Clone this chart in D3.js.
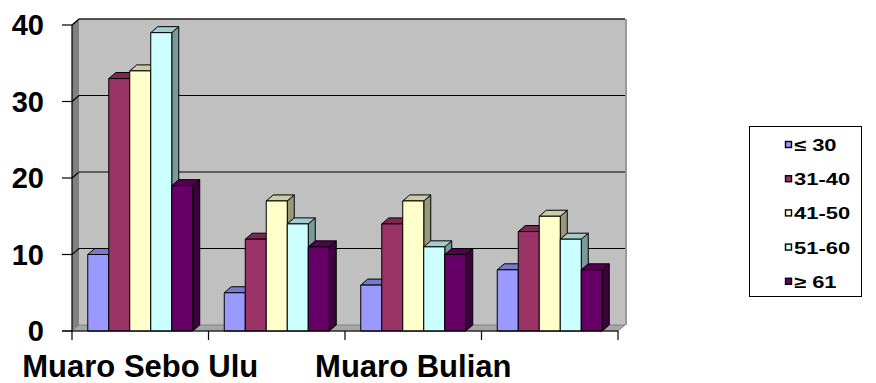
<!DOCTYPE html>
<html>
<head>
<meta charset="utf-8">
<script src="https://cdn.jsdelivr.net/npm/d3@7"></script>
<style>
  html, body { margin: 0; padding: 0; background: #fff; }
  svg { display: block; font-family: "Liberation Sans", Arial, sans-serif; }
</style>
</head>
<body>
<svg id="chart" width="876" height="383"></svg>
<script>
// Category tick labels (every other category label is skipped on the axis)
const categoryLabels = ["Muaro Sebo Ulu", "", "Muaro Bulian", ""];

// Age-group series
const seriesNames = ["\u2264 30", "31-40", "41-50", "51-60", "\u2265 61"];
const le30    = [10, 5, 6, 8];
const age3140 = [33, 12, 14, 13];
const age4150 = [34, 17, 17, 15];
const age5160 = [39, 14, 11, 12];
const ge61    = [19, 11, 10, 8];
const seriesValues = [le30, age3140, age4150, age5160, ge61];

const yTicks = [0, 10, 20, 30, 40];

// Face colours: front, top, side
const palette = [
  { front: "#9999FF", top: "#7A7ACC", side: "#5C5C99" },
  { front: "#993366", top: "#7A2952", side: "#5C1F3D" },
  { front: "#FFFFCC", top: "#CCCCA3", side: "#99997A" },
  { front: "#CCFFFF", top: "#A3CCCC", side: "#7A9999" },
  { front: "#660066", top: "#520052", side: "#3D003D" }
];

const svg = d3.select("#chart");

// Front plane of the plot and depth offset
const plotLeft = 72, plotRight = 618, plotBottom = 331, plotTop = 25;
const dx = 7, dy = -6;

const y = d3.scaleLinear().domain([0, 40]).range([plotBottom, plotTop]);
const x = d3.scaleBand().domain(d3.range(categoryLabels.length)).range([plotLeft, plotRight]).paddingInner(0).paddingOuter(0);
const xs = d3.scaleBand().domain(d3.range(seriesNames.length)).range([0, x.bandwidth()]).paddingInner(0).paddingOuter(0.75);

// Back wall
svg.append("rect")
  .attr("x", plotLeft + dx).attr("y", plotTop + dy)
  .attr("width", plotRight - plotLeft).attr("height", plotBottom - plotTop)
  .attr("fill", "#C0C0C0");
// Back wall right rim
svg.append("rect")
  .attr("x", plotRight + dx).attr("y", plotTop + dy)
  .attr("width", 2).attr("height", plotBottom - plotTop)
  .attr("fill", "#9A9A9A");

// Left side wall
svg.append("path")
  .attr("d", `M${plotLeft},${plotTop} L${plotLeft + dx},${plotTop + dy} L${plotLeft + dx},${plotBottom + dy} L${plotLeft},${plotBottom} Z`)
  .attr("fill", "#808080");

// Floor
svg.append("path")
  .attr("d", `M${plotLeft},${plotBottom} L${plotLeft + dx},${plotBottom + dy} L${plotRight + dx},${plotBottom + dy} L${plotRight},${plotBottom} Z`)
  .attr("fill", "#A6A6A6")
  .attr("stroke", "#808080").attr("stroke-width", 1);

// Gridlines: across the back wall and down the side wall
yTicks.forEach(t => {
  if (t === 0) return;
  const yy = y(t);
  svg.append("path")
    .attr("d", `M${plotLeft},${yy} L${plotLeft + dx},${yy + dy} L${plotRight + dx},${yy + dy}`)
    .attr("fill", "none")
    .attr("stroke", "#000").attr("stroke-width", 1.2);
});

// Bars
const bars = svg.append("g");
d3.range(categoryLabels.length).forEach(ci => {
  seriesValues.forEach((vals, si) => {
    const v = vals[ci];
    const x0 = x(ci) + xs(si);
    const w = xs.bandwidth();
    const y0 = y(v);
    const c = palette[si];
    const g = bars.append("g").attr("stroke", "#000").attr("stroke-width", 1).attr("stroke-linejoin", "round");
    // side face
    g.append("path")
      .attr("d", `M${x0 + w},${y0} L${x0 + w + dx},${y0 + dy} L${x0 + w + dx},${plotBottom + dy} L${x0 + w},${plotBottom} Z`)
      .attr("fill", c.side);
    // top face
    g.append("path")
      .attr("d", `M${x0},${y0} L${x0 + dx},${y0 + dy} L${x0 + w + dx},${y0 + dy} L${x0 + w},${y0} Z`)
      .attr("fill", c.top);
    // front face
    g.append("rect")
      .attr("x", x0).attr("y", y0)
      .attr("width", w).attr("height", plotBottom - y0)
      .attr("fill", c.front);
  });
});

// Value axis
svg.append("line")
  .attr("x1", plotLeft).attr("x2", plotLeft).attr("y1", plotTop).attr("y2", plotBottom)
  .attr("stroke", "#000").attr("stroke-width", 1.2);
// Top edges of the walls
svg.append("line")
  .attr("x1", plotLeft).attr("y1", plotTop).attr("x2", plotLeft + dx).attr("y2", plotTop + dy)
  .attr("stroke", "#000").attr("stroke-width", 1);
svg.append("line")
  .attr("x1", plotLeft + dx).attr("y1", plotTop + dy).attr("x2", plotRight + dx).attr("y2", plotTop + dy)
  .attr("stroke", "#333").attr("stroke-width", 1.2);

const yAxis = svg.append("g");
yTicks.forEach(t => {
  yAxis.append("line")
    .attr("x1", plotLeft - 10).attr("x2", plotLeft).attr("y1", y(t)).attr("y2", y(t))
    .attr("stroke", "#000").attr("stroke-width", 1.2);
  yAxis.append("text")
    .attr("x", 44).attr("y", y(t) + 10.4)
    .attr("text-anchor", "end")
    .attr("font-size", 29).attr("font-weight", "bold")
    .attr("fill", "#000")
    .text(t);
});

// Category axis
svg.append("line")
  .attr("x1", plotLeft - 10).attr("x2", plotRight).attr("y1", plotBottom).attr("y2", plotBottom)
  .attr("stroke", "#000").attr("stroke-width", 1.2);
const xAxis = svg.append("g");
d3.range(categoryLabels.length + 1).forEach(i => {
  const xx = plotLeft + i * x.step();
  xAxis.append("line")
    .attr("x1", xx).attr("x2", xx).attr("y1", plotBottom).attr("y2", plotBottom + 9)
    .attr("stroke", "#000").attr("stroke-width", 1.2);
});
categoryLabels.forEach((lab, i) => {
  if (!lab) return;
  xAxis.append("text")
    .attr("x", x(i) + x.bandwidth() / 2).attr("y", 377)
    .attr("text-anchor", "middle")
    .attr("font-size", 31).attr("font-weight", "bold")
    .attr("fill", "#000")
    .text(lab);
});

// Legend
const legend = svg.append("g");
legend.append("rect")
  .attr("x", 749.5).attr("y", 126.5).attr("width", 112).attr("height", 170)
  .attr("fill", "#fff").attr("stroke", "#000").attr("stroke-width", 1);
seriesNames.forEach((name, i) => {
  const cy = 145 + i * 34.2;
  legend.append("rect")
    .attr("x", 785.5).attr("y", cy - 3.5).attr("width", 6).attr("height", 6)
    .attr("fill", palette[i].front).attr("stroke", "#000").attr("stroke-width", 1.4);
  legend.append("text")
    .attr("transform", `translate(794,${cy + 6}) scale(1.33,1)`)
    .attr("font-size", 16.5).attr("font-weight", "bold")
    .attr("fill", "#000")
    .text(name);
});
</script>
</body>
</html>
